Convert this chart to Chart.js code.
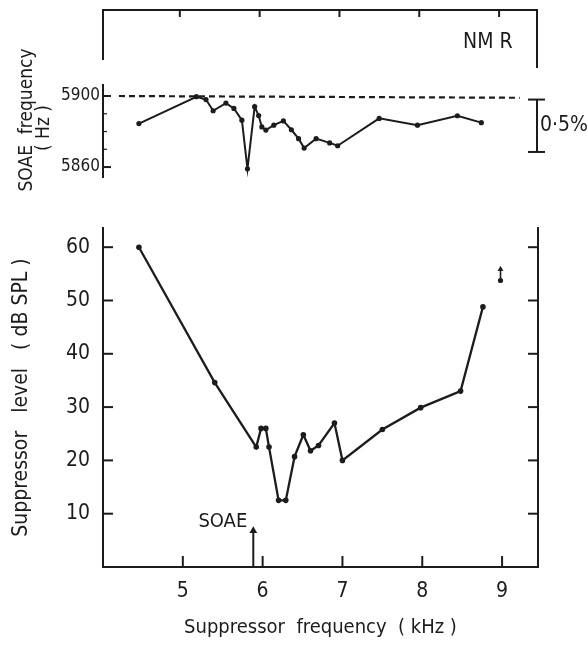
<!DOCTYPE html>
<html><head><meta charset="utf-8">
<script src="https://cdn.jsdelivr.net/npm/chart.js@4/dist/chart.umd.min.js"></script>
<style>
html,body{margin:0;padding:0;background:#fff;}
#wrap{position:relative;width:587px;height:650px;overflow:hidden;}
canvas{position:absolute;left:0;}
#cTop{top:0;}
#cBot{top:200px;}
</style></head><body>
<div id="wrap">
<canvas id="cTop" width="587" height="200"></canvas>
<canvas id="cBot" width="587" height="450"></canvas>
</div>
<script>
const FONT = "'DejaVu Sans Condensed','Liberation Sans Narrow','DejaVu Sans',sans-serif";
const INK = '#1c1c1c';

// ---- Top panel: SOAE frequency (Hz) vs suppressor frequency (kHz)
const topFreqKHz = [4.45, 5.17, 5.29, 5.38, 5.54, 5.64, 5.74, 5.81, 5.90, 5.95, 5.99, 6.04,
                    6.14, 6.26, 6.36, 6.45, 6.52, 6.67, 6.84, 6.94, 7.46, 7.94, 8.44, 8.74];
const soaeFreqHz = [5884.5, 5899.6, 5898, 5891.7, 5896, 5893, 5886.4, 5859, 5894, 5889, 5882.6, 5880.8,
                    5883.6, 5886, 5881, 5876, 5870.7, 5876, 5873.6, 5872, 5887.4, 5883.6, 5888.9, 5885];
const refLineKHz = [4.2, 9.22];
const refLineHz = [5900, 5899];
const topTickHz = [5860, 5870, 5880, 5890, 5900];
const topLabelHz = [5860, 5900];

// ---- Bottom panel: suppressor level (dB SPL) vs suppressor frequency (kHz)
const supFreqKHz = [4.45, 5.40, 5.92, 5.98, 6.04, 6.08, 6.20, 6.29, 6.40, 6.51, 6.60, 6.70,
                    6.90, 7.00, 7.50, 7.98, 8.48, 8.76];
const supLevelDB = [60, 34.6, 22.5, 26, 26, 22.5, 12.5, 12.5, 20.7, 24.8, 21.8, 22.8,
                    27, 20, 25.8, 29.9, 33, 48.8];
const offScaleKHz = [8.98];
const offScaleDB = [54.8];
const soaeMarkKHz = [5.883, 5.883];
const soaeArrowDB = [0, 6.8];
const xTicksKHz = [5, 6, 7, 8, 9];
const yTicksDB = [10, 20, 30, 40, 50, 60];

const X_MIN = 4.0, X_MAX = 9.45;

Chart.defaults.font.family = FONT;
Chart.defaults.color = INK;
const toXY = (xs, ys) => xs.map((x, i) => ({x, y: ys[i]}));

function seg(ctx, x1, y1, x2, y2) { ctx.beginPath(); ctx.moveTo(x1, y1); ctx.lineTo(x2, y2); ctx.stroke(); }

const topDecor = {
  id: 'topDecor',
  afterDraw(chart) {
    const {ctx, chartArea: a, scales: {x, y}} = chart;
    ctx.save();
    ctx.strokeStyle = INK; ctx.fillStyle = INK; ctx.lineWidth = 2;
    const fy = 10, rx = a.right - 1;
    ctx.beginPath();
    ctx.moveTo(a.left, 60); ctx.lineTo(a.left, fy); ctx.lineTo(rx, fy); ctx.lineTo(rx, 68);
    ctx.stroke();
    xTicksKHz.forEach(v => { const px = x.getPixelForValue(v) - 3; seg(ctx, px, fy, px, fy + 7); });
    topTickHz.forEach(v => {
      const py = y.getPixelForValue(v);
      const len = topLabelHz.includes(v) ? 8 : 4;
      ctx.lineWidth = topLabelHz.includes(v) ? 2 : 1.2;
      seg(ctx, a.left, py, a.left + len, py);
    });
    ctx.lineWidth = 2;
    const t = y.getPixelForValue(5898), b = y.getPixelForValue(5898 - 5900 * 0.005);
    seg(ctx, rx, t, rx, b); seg(ctx, rx - 9, t, rx + 8, t); seg(ctx, rx - 9, b, rx + 8, b);
    ctx.font = `21px ${FONT}`;
    ctx.textAlign = 'left'; ctx.textBaseline = 'middle';
    ctx.fillText('0·5%', rx + 3, (t + b) / 2);
    ctx.fillText('NM R', 463, 43);
    ctx.textAlign = 'center';
    ctx.save(); ctx.translate(27, 120); ctx.rotate(-Math.PI / 2);
    ctx.font = `19px ${FONT}`; ctx.fillText('SOAE  frequency', 0, 0); ctx.restore();
    ctx.save(); ctx.translate(44, 128); ctx.rotate(-Math.PI / 2);
    ctx.font = `19px ${FONT}`; ctx.fillText('( Hz )', 0, 0); ctx.restore();
    ctx.restore();
  }
};

const botDecor = {
  id: 'botDecor',
  afterDraw(chart) {
    const {ctx, chartArea: a, scales: {x, y}} = chart;
    ctx.save();
    ctx.strokeStyle = INK; ctx.fillStyle = INK; ctx.lineWidth = 2;
    yTicksDB.forEach(v => {
      const py = y.getPixelForValue(v);
      seg(ctx, a.left, py, a.left + 10, py);
      seg(ctx, a.right - 10, py, a.right, py);
    });
    xTicksKHz.forEach(v => { const px = x.getPixelForValue(v); seg(ctx, px, a.bottom, px, a.bottom - 11); });
    ctx.font = `20px ${FONT}`;
    ctx.textAlign = 'right'; ctx.textBaseline = 'middle';
    ctx.fillText('SOAE', x.getPixelForValue(soaeMarkKHz[0]) - 6, y.getPixelForValue(8.4));
    ctx.restore();
  }
};

// off-scale marker glyph
const arrowImg = document.createElement('canvas');
arrowImg.width = 9; arrowImg.height = 18;
(() => {
  const g = arrowImg.getContext('2d');
  g.fillStyle = INK; g.strokeStyle = INK; g.lineWidth = 1.6;
  g.beginPath(); g.moveTo(4.5, 3); g.lineTo(4.5, 14); g.stroke();
  g.beginPath(); g.moveTo(4.5, 0); g.lineTo(1.5, 5); g.lineTo(7.5, 5); g.closePath(); g.fill();
  g.beginPath(); g.arc(4.5, 14.5, 2.6, 0, Math.PI * 2); g.fill();
})();

new Chart(document.getElementById('cTop'), {
  type: 'scatter',
  data: { datasets: [
    { data: toXY(refLineKHz, refLineHz), showLine: true, borderColor: INK, borderWidth: 2.2,
      borderDash: [6, 4], pointRadius: 0 },
    { data: toXY(topFreqKHz, soaeFreqHz), showLine: true, borderColor: INK, borderWidth: 2,
      pointRadius: 2.6, pointBackgroundColor: INK, pointBorderWidth: 0 }
  ]},
  options: {
    responsive: false, animation: false,
    layout: { padding: { top: 85, right: 49, bottom: 23, left: 0 } },
    plugins: { legend: { display: false }, tooltip: { enabled: false } },
    scales: {
      x: { type: 'linear', min: X_MIN, max: X_MAX, display: false },
      y: { type: 'linear', min: 5854.4, max: 5906.2,
        afterFit: s => { s.width = 103; },
        afterBuildTicks: s => { s.ticks = topTickHz.map(v => ({value: v})); },
        ticks: { callback: v => topLabelHz.includes(v) ? String(v) : '', font: { size: 17 }, padding: 3, color: INK },
        grid: { display: false, drawTicks: false },
        border: { display: true, color: INK, width: 2 } }
    }
  },
  plugins: [topDecor]
});

new Chart(document.getElementById('cBot'), {
  type: 'scatter',
  data: { datasets: [
    { data: toXY(supFreqKHz, supLevelDB), showLine: true, borderColor: INK, borderWidth: 2.3,
      pointRadius: 2.8, pointBackgroundColor: INK, pointBorderWidth: 0 },
    { data: toXY(offScaleKHz, offScaleDB), showLine: false, pointStyle: arrowImg, pointRadius: 9 },
    { data: toXY(soaeMarkKHz, soaeArrowDB), showLine: true, borderColor: INK, borderWidth: 2,
      pointRadius: [0, 4.5], pointStyle: 'triangle', pointBackgroundColor: INK, pointBorderWidth: 0 }
  ]},
  options: {
    responsive: false, animation: false,
    layout: { padding: { top: 28, right: 49, bottom: 0, left: 0 } },
    plugins: { legend: { display: false }, tooltip: { enabled: false } },
    scales: {
      x: { type: 'linear', min: X_MIN, max: X_MAX,
        afterFit: s => { s.height = 83; },
        afterBuildTicks: s => { s.ticks = xTicksKHz.map(v => ({value: v})); },
        ticks: { font: { size: 21 }, padding: 12, color: INK },
        grid: { display: false, drawTicks: false },
        border: { display: true, color: INK, width: 2 },
        title: { display: true, text: 'Suppressor  frequency  ( kHz )', font: { size: 20 },
                 padding: { top: 0, bottom: 10 }, color: INK } },
      y: { type: 'linear', min: 0, max: 63.6,
        afterFit: s => { s.width = 103; },
        afterBuildTicks: s => { s.ticks = yTicksDB.map(v => ({value: v})); },
        ticks: { font: { size: 21 }, padding: 13, color: INK },
        grid: { display: false, drawTicks: false },
        border: { display: true, color: INK, width: 2 },
        title: { display: true, text: 'Suppressor   level   ( dB SPL )', font: { size: 21 },
                 padding: { top: 9, bottom: 0 }, color: INK } },
      y2: { type: 'linear', position: 'right', min: 0, max: 63.6,
        afterFit: s => { s.width = 0; },
        ticks: { display: false },
        grid: { display: false, drawTicks: false },
        border: { display: true, color: INK, width: 2 } }
    }
  },
  plugins: [botDecor]
});
</script>
</body></html>
